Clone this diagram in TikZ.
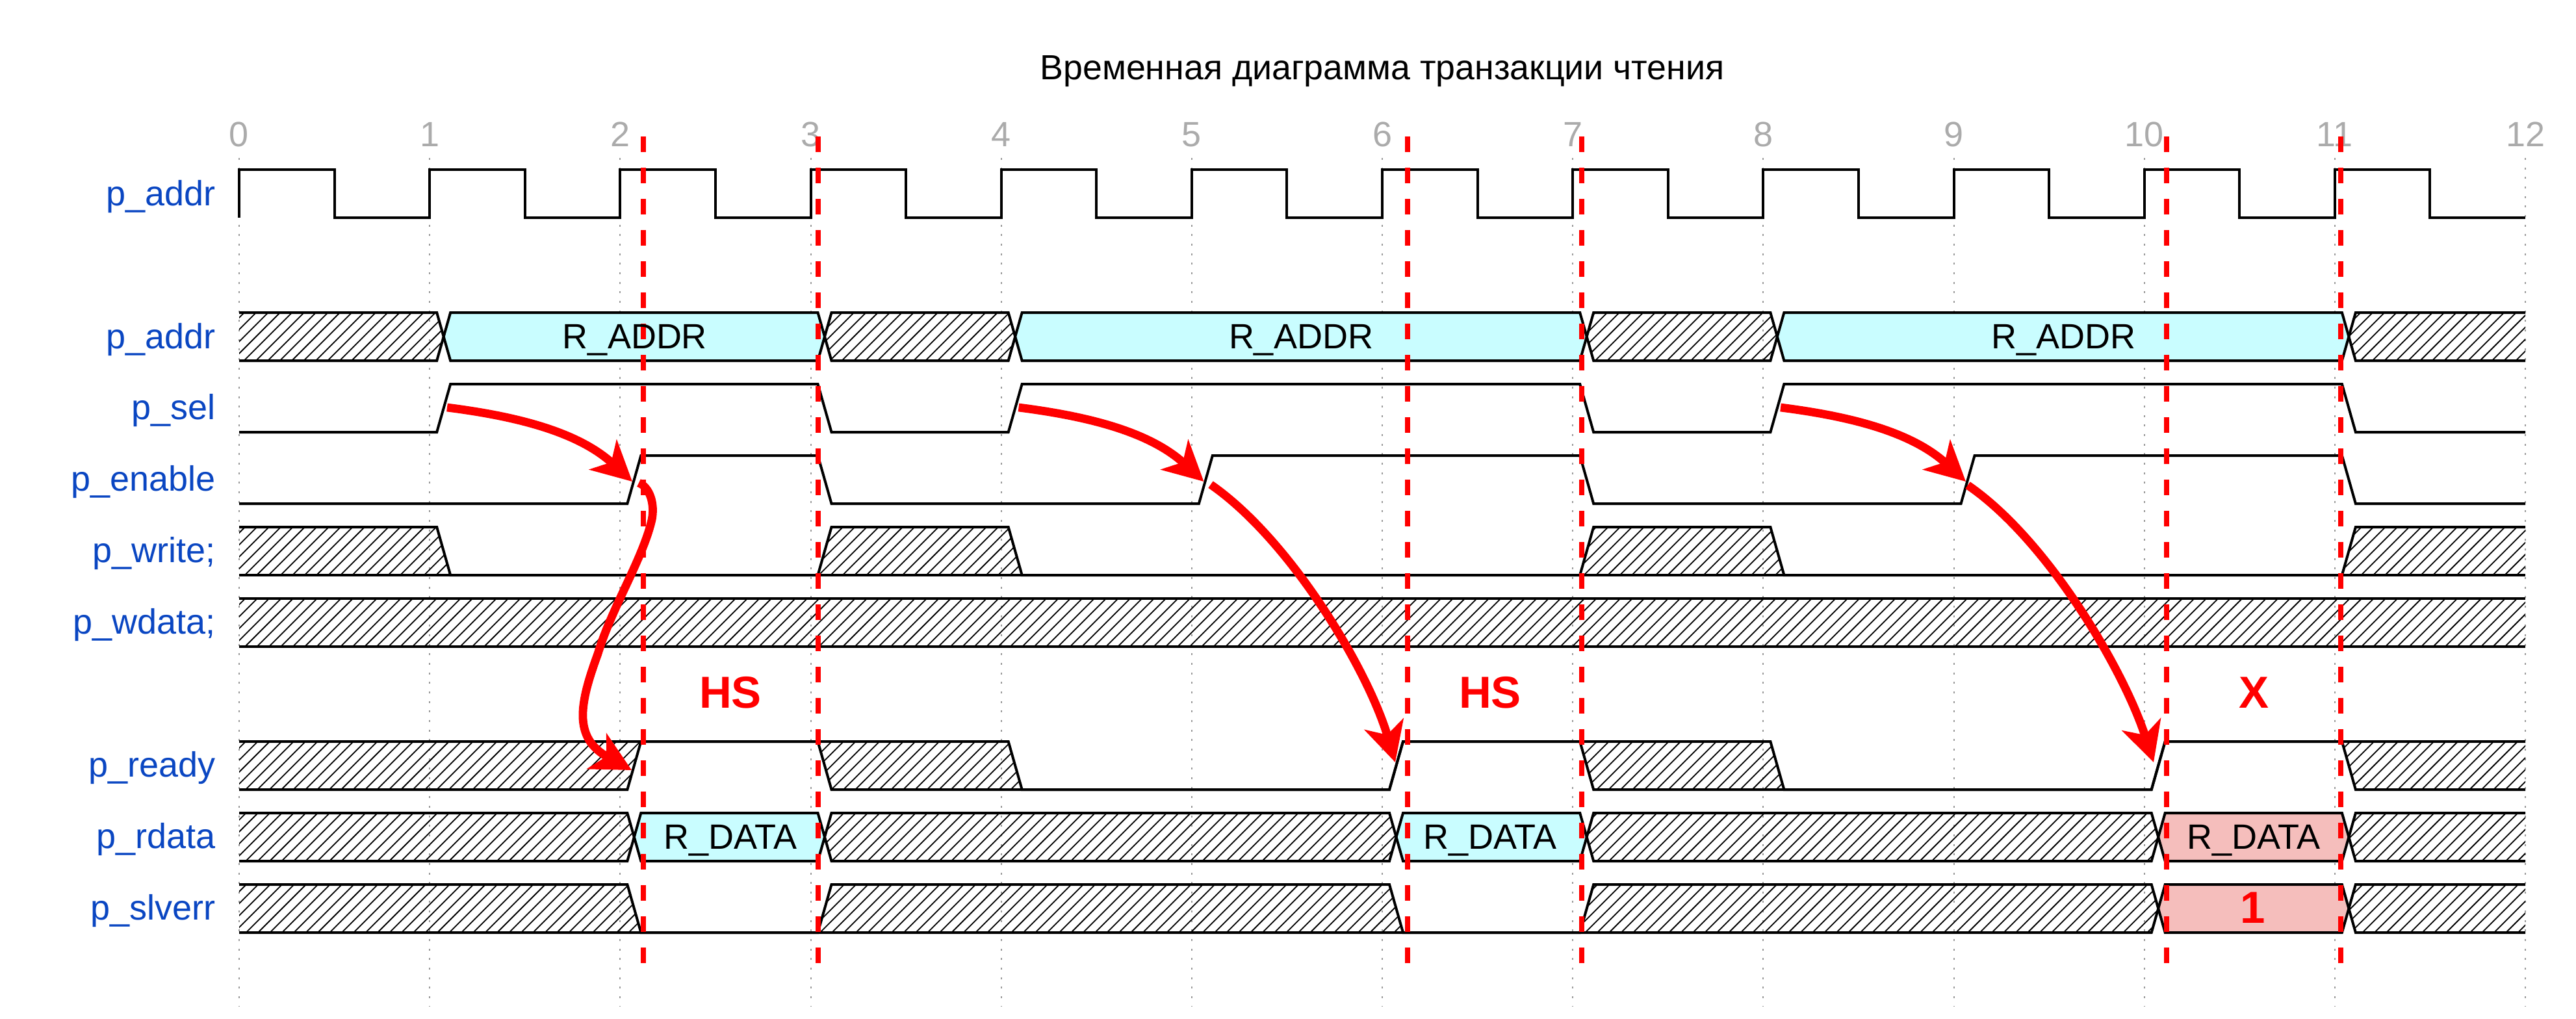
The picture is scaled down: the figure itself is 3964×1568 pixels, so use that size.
\documentclass[tikz,border=0pt]{standalone}
\usepackage{fontspec}
\setmainfont{Liberation Sans}
\usetikzlibrary{arrows.meta}
\definecolor{lblblue}{HTML}{0A46C2}
\definecolor{digitgray}{HTML}{ABABAB}
\definecolor{gridgray}{HTML}{999999}
\definecolor{valcyan}{HTML}{C9FDFF}
\definecolor{valpink}{HTML}{F5BEBC}
\newcommand\xg[1]{{368+293.17*(#1)}}
\newcommand\xa[1]{{368+293.17*(#1)+11}}
\newcommand\xc[1]{{368+293.17*(#1)+21.5}}
\newcommand\xb[1]{{368+293.17*(#1)+32}}
\tikzset{
  gridline/.style={gridgray,line width=1pt,dash pattern=on 1.5pt off 5.83pt},
  hatchline/.style={black,line width=0.9pt},
  wv/.style={black,line width=2pt,line join=miter},
  reddash/.style={red,line width=4pt,dash pattern=on 12pt off 12pt},
  redarrow/.style={red,line width=6.4pt,-{Stealth[length=30.5pt,width=31pt,inset=8.5pt]}},
  sig/.style={lblblue,anchor=base east,inner sep=0pt,font=\fontsize{27}{30}\selectfont},
  digit/.style={digitgray,anchor=base,inner sep=0pt,font=\fontsize{27}{30}\selectfont},
  val/.style={black,anchor=base,inner sep=0pt,font=\fontsize{27}{30}\selectfont},
  redtxt/.style={red,anchor=center,inner sep=0pt,font=\fontsize{34.5}{36}\selectfont\bfseries},
}
% y, left top/mid/bottom x, right top/mid/bottom x
\newcommand\hatchpoly[7]{%
  \begin{scope}
    \clip (#2,#1) -- (#5,#1) -- (#6,{#1+37}) -- (#7,{#1+74}) -- (#4,{#1+74}) -- (#3,{#1+37}) -- cycle;
    \draw[hatchline] \foreach \n in {0,...,200} {
      ({360+mod(1306.4-#1,18.4)+18.4*\n+4},{#1-4}) -- ({360+mod(1306.4-#1,18.4)+18.4*\n-80},{#1+80}) };
  \end{scope}}
\newcommand\valpoly[4]{%
  \fill[#2] (\xb{#3},#1) -- (\xa{#4},#1) -- (\xc{#4},{#1+37}) -- (\xa{#4},{#1+74}) -- (\xb{#3},{#1+74}) -- (\xc{#3},{#1+37}) -- cycle;}
% y, start level (0 top, 1 bottom), toggles, end level
\newcommand\wave[4]{%
  \draw[wv] (368,{#1+74*#2}) \foreach \k [count=\i] in {#3} {
    -- (\xa{\k},{#1+74*mod(#2+\i-1,2)}) -- (\xb{\k},{#1+74*mod(#2+\i,2)}) } -- (3886,{#1+74*#4});}
\newcommand\selarrow[2]{%
  \begin{scope}[shift={(#2,0)}]
    \coordinate (s#1) at (688,627);
    \coordinate (e#1) at (973,741);
    \draw[redarrow] (s#1) .. controls (790,640) and (888,663) .. (e#1);
  \end{scope}}
\begin{document}
\begin{tikzpicture}[x=0.5pt,y=-0.5pt]
\useasboundingbox (0,0) rectangle (3964,1568);
% grid
\foreach \k in {0,...,12} {
  \coordinate (gt\k) at (\xg{\k},243);
  \coordinate (gb\k) at (\xg{\k},1549);
  \draw[gridline] (gt\k) -- (gb\k);
  \node[digit] (d\k) at (\xg{\k},225) {\k};
}
\node[anchor=base,inner sep=0pt,font=\fontsize{26.85}{30}\selectfont] (title) at (2127,122.7) {Временная диаграмма транзакции чтения};
% value fills
\valpoly{481}{valcyan}{1}{3}
\valpoly{481}{valcyan}{4}{7}
\valpoly{481}{valcyan}{8}{11}
\valpoly{1251}{valcyan}{2}{3}
\valpoly{1251}{valcyan}{6}{7}
\valpoly{1251}{valpink}{10}{11}
\valpoly{1361}{valpink}{10}{11}
% hatches: addr
\hatchpoly{481}{368}{368}{368}{\xa{1}}{\xc{1}}{\xa{1}}
\hatchpoly{481}{\xb{3}}{\xc{3}}{\xb{3}}{\xa{4}}{\xc{4}}{\xa{4}}
\hatchpoly{481}{\xb{7}}{\xc{7}}{\xb{7}}{\xa{8}}{\xc{8}}{\xa{8}}
\hatchpoly{481}{\xb{11}}{\xc{11}}{\xb{11}}{3886}{3886}{3886}
% write
\hatchpoly{811}{368}{368}{368}{\xa{1}}{\xc{1}}{\xb{1}}
\hatchpoly{811}{\xb{3}}{\xc{3}}{\xa{3}}{\xa{4}}{\xc{4}}{\xb{4}}
\hatchpoly{811}{\xb{7}}{\xc{7}}{\xa{7}}{\xa{8}}{\xc{8}}{\xb{8}}
\hatchpoly{811}{\xb{11}}{\xc{11}}{\xa{11}}{3886}{3886}{3886}
% wdata
\hatchpoly{921}{368}{368}{368}{3886}{3886}{3886}
% ready
\hatchpoly{1141}{368}{368}{368}{\xb{2}}{\xc{2}}{\xa{2}}
\hatchpoly{1141}{\xa{3}}{\xc{3}}{\xb{3}}{\xa{4}}{\xc{4}}{\xb{4}}
\hatchpoly{1141}{\xa{7}}{\xc{7}}{\xb{7}}{\xa{8}}{\xc{8}}{\xb{8}}
\hatchpoly{1141}{\xa{11}}{\xc{11}}{\xb{11}}{3886}{3886}{3886}
% rdata
\hatchpoly{1251}{368}{368}{368}{\xa{2}}{\xc{2}}{\xa{2}}
\hatchpoly{1251}{\xb{3}}{\xc{3}}{\xb{3}}{\xa{6}}{\xc{6}}{\xa{6}}
\hatchpoly{1251}{\xb{7}}{\xc{7}}{\xb{7}}{\xa{10}}{\xc{10}}{\xa{10}}
\hatchpoly{1251}{\xb{11}}{\xc{11}}{\xb{11}}{3886}{3886}{3886}
% slverr
\hatchpoly{1361}{368}{368}{368}{\xa{2}}{\xc{2}}{\xb{2}}
\hatchpoly{1361}{\xb{3}}{\xc{3}}{\xa{3}}{\xa{6}}{\xc{6}}{\xb{6}}
\hatchpoly{1361}{\xb{7}}{\xc{7}}{\xa{7}}{\xa{10}}{\xc{10}}{\xa{10}}
\hatchpoly{1361}{\xb{11}}{\xc{11}}{\xb{11}}{3886}{3886}{3886}
% clock
\draw[wv] (368,335) \foreach \k in {0,...,11} {
  -- (\xg{\k},261) -- (\xg{\k+0.5},261) -- (\xg{\k+0.5},335) -- (\xg{\k+1},335) };
% waves
\wave{481}{0}{1,3,4,7,8,11}{0}
\wave{481}{1}{1,3,4,7,8,11}{1}
\wave{591}{1}{1,3,4,7,8,11}{1}
\wave{701}{1}{2,3,5,7,9,11}{1}
\wave{811}{0}{1,3,4,7,8,11}{0}
\draw[wv] (368,885) -- (3886,885);
\draw[wv] (368,921) -- (3886,921);
\draw[wv] (368,995) -- (3886,995);
\wave{1141}{1}{2,3,6,7,10,11}{1}
\wave{1141}{0}{4,6,8,10}{0}
\wave{1251}{0}{2,3,6,7,10,11}{0}
\wave{1251}{1}{2,3,6,7,10,11}{1}
\wave{1361}{0}{2,3,6,7,10,11}{0}
\wave{1361}{1}{10,11}{1}
% red dashed markers
\foreach \n/\x in {a/990,b/1258.7,c/2165.5,d/2433.7,e/3333.6,f/3602} {
  \coordinate (mt\n) at (\x,210);
  \coordinate (mb\n) at (\x,1482);
  \draw[reddash] (mt\n) -- (mb\n);
}
% signal labels
\node[sig] (l0) at (332,316) {p\_addr};
\node[sig] (l1) at (332,536) {p\_addr};
\node[sig] (l2) at (332,645) {p\_sel};
\node[sig] (l3) at (332,755) {p\_enable};
\node[sig] (l4) at (332,865) {p\_write;};
\node[sig] (l5) at (332,975) {p\_wdata;};
\node[sig] (l6) at (332,1195) {p\_ready};
\node[sig] (l7) at (332,1305) {p\_rdata};
\node[sig] (l8) at (332,1415) {p\_slverr};
% values
\node[val] (v1) at (977,536) {R\_ADDR};
\node[val] (v2) at (2002,536) {R\_ADDR};
\node[val] (v3) at (3175,536) {R\_ADDR};
\node[val] (v4) at (1124,1306) {R\_DATA};
\node[val] (v5) at (2293,1306) {R\_DATA};
\node[val] (v6) at (3468,1306) {R\_DATA};
\node[redtxt] (hs1) at (1124,1066) {HS};
\node[redtxt] (hs2) at (2293,1066) {HS};
\node[redtxt] (xx) at (3468,1066) {X};
\node[redtxt] (one) at (3467,1397) {1};
% red arrows
\selarrow{a}{0}
\selarrow{b}{879.5}
\selarrow{c}{2052}
\coordinate (sr) at (983,743);
\coordinate (er) at (972,1185);
\draw[redarrow] (sr) .. controls (1000,750) and (1008,775) .. (1003,800)
  .. controls (989,860) and (941,936) .. (920,1006)
  .. controls (893,1080) and (880,1135) .. (er);
\coordinate (sr2) at (1863,745.6);
\coordinate (er2) at (2147,1173);
\draw[redarrow] (sr2) .. controls (1985,830) and (2105,1030) .. (er2);
\coordinate (sr3) at (3028,746.6);
\coordinate (er3) at (3314,1173);
\draw[redarrow] (sr3) .. controls (3150,830) and (3268,1030) .. (er3);
\end{tikzpicture}
\end{document}
